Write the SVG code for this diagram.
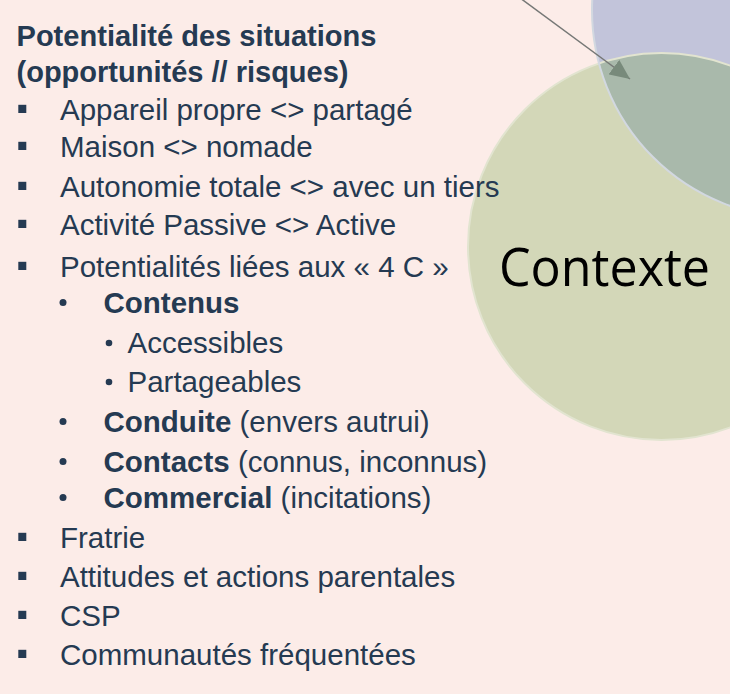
<svg xmlns="http://www.w3.org/2000/svg" width="730" height="694" viewBox="0 0 730 694">
  <style>
    .t { font-family: "Liberation Sans", Arial, sans-serif; font-size: 29.5px; fill: #253a52; }
    .b { font-weight: bold; }
    .sq { fill: #253a52; }
    .ctx { font-family: "Open Sans", "Noto Sans", sans-serif; font-size: 53px; fill: #000; }
  </style>
  <defs>
    <clipPath id="greenClip"><circle cx="661.5" cy="246.5" r="193.5"/></clipPath>
    <marker id="ah" markerWidth="22" markerHeight="18" refX="20" refY="9" orient="auto" markerUnits="userSpaceOnUse">
      <path d="M0,0 L20,9 L0,18 Z" fill="#788a7b"/>
    </marker>
  </defs>
  <rect width="730" height="694" fill="#fcece8"/>

  <g id="circle-blue">
    <circle cx="800" cy="10" r="208" fill="#c2c4da"/>
  </g>
  <g id="circle-contexte">
    <circle cx="661.5" cy="246.5" r="193.5" fill="#d3d7b8"/>
    <circle cx="800" cy="10" r="208" fill="#a9b9ab" clip-path="url(#greenClip)"/>
    <circle cx="661.5" cy="246.5" r="193.5" fill="none" stroke="#e2e4d0" stroke-width="2"/>
    <circle cx="800" cy="10" r="208" fill="none" stroke="#d2d8e0" stroke-width="2"/>
    <text class="ctx" x="499" y="286" textLength="211" lengthAdjust="spacingAndGlyphs">Contexte</text>
  </g>

  <g id="connectors">
    <line x1="516" y1="-5" x2="630" y2="79" stroke="#767876" stroke-width="1.5" marker-end="url(#ah)"/>
  </g>

  <g id="text-list">
    <text class="t b" x="16.5" y="46" font-size="27" textLength="360" lengthAdjust="spacingAndGlyphs">Potentialité des situations</text>
    <text class="t b" x="16.5" y="82" font-size="27" textLength="332" lengthAdjust="spacingAndGlyphs">(opportunités // risques)</text>

    <rect class="sq" x="18.3" y="104.8" width="8" height="8.2"/>
    <text class="t" x="60" y="120">Appareil propre &lt;&gt; partagé</text>
    <rect class="sq" x="18.3" y="141.8" width="8" height="8.2"/>
    <text class="t" x="60" y="157">Maison &lt;&gt; nomade</text>
    <rect class="sq" x="18.3" y="181.8" width="8" height="8.2"/>
    <text class="t" x="60" y="197">Autonomie totale &lt;&gt; avec un tiers</text>
    <rect class="sq" x="18.3" y="219.8" width="8" height="8.2"/>
    <text class="t" x="60" y="235">Activité Passive &lt;&gt; Active</text>
    <rect class="sq" x="18.3" y="261.8" width="8" height="8.2"/>
    <text class="t" x="60" y="277">Potentialités liées aux « 4 C »</text>

    <circle class="sq" cx="63" cy="302.5" r="3.5"/>
    <text class="t b" x="103.5" y="313">Contenus</text>
    <circle class="sq" cx="109" cy="343" r="3.3"/>
    <text class="t" x="127.5" y="353">Accessibles</text>
    <circle class="sq" cx="109" cy="382" r="3.3"/>
    <text class="t" x="127.5" y="392">Partageables</text>
    <circle class="sq" cx="63" cy="421.5" r="3.5"/>
    <text class="t" x="103.5" y="432"><tspan class="b">Conduite</tspan> (envers autrui)</text>
    <circle class="sq" cx="63" cy="461.5" r="3.5"/>
    <text class="t" x="103.5" y="472"><tspan class="b">Contacts</tspan> (connus, inconnus)</text>
    <circle class="sq" cx="63" cy="497.5" r="3.5"/>
    <text class="t" x="103.5" y="508"><tspan class="b">Commercial</tspan> (incitations)</text>

    <rect class="sq" x="18.3" y="532.8" width="8" height="8.2"/>
    <text class="t" x="60" y="548">Fratrie</text>
    <rect class="sq" x="18.3" y="571.8" width="8" height="8.2"/>
    <text class="t" x="60" y="587">Attitudes et actions parentales</text>
    <rect class="sq" x="18.3" y="610.8" width="8" height="8.2"/>
    <text class="t" x="60" y="626">CSP</text>
    <rect class="sq" x="18.3" y="649.8" width="8" height="8.2"/>
    <text class="t" x="60" y="665">Communautés fréquentées</text>
  </g>
</svg>
